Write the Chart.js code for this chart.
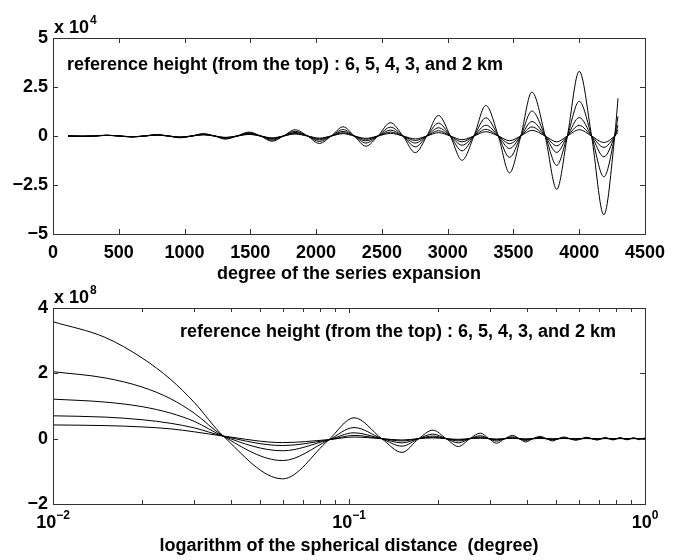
<!DOCTYPE html>
<html>
<head>
<meta charset="utf-8">
<script src="https://cdn.jsdelivr.net/npm/chart.js@4.4.0/dist/chart.umd.min.js"></script>
<style>
html, body { margin: 0; padding: 0; background: #fff; }
#wrap { position: relative; width: 681px; height: 560px; }
canvas { position: absolute; left: 0; }
</style>
</head>
<body>
<div id="wrap">
  <canvas id="spectrum" width="681" height="290" style="top:0"></canvas>
  <canvas id="spatial" width="681" height="280" style="top:280px"></canvas>
</div>
<script>
// top panel: degree of the series expansion, values in units of 1e4
var degree = [114, 225, 315, 407, 505, 600, 695, 788, 877, 965, 1055, 1143, 1228, 1310, 1400, 1490,
  1578, 1665, 1752, 1840, 1935, 2025, 2115, 2205, 2290, 2378, 2470, 2565, 2660, 2754, 2842, 2930,
  3020, 3109, 3200, 3290, 3385, 3470, 3556, 3640, 3741, 3829, 3910, 4000, 4094, 4187, 4270, 4295];
var deg6km = [0, -0.015, 0, 0.04, 0, -0.05, 0, 0.07, 0, -0.09, 0, 0.12, 0, -0.16, 0, 0.20, 0, -0.27, 0, 0.32, 0, -0.38, 0, 0.47,
  0, -0.52, 0, 0.68, 0, -0.85, 0, 1.05, 0, -1.24, 0, 1.56, 0, -1.88, 0, 2.24, 0, -2.72, 0, 3.30, 0, -4.02, 0, 1.92];
var deg5km = [0, -0.014, 0, 0.038, 0, -0.045, 0, 0.062, 0, -0.078, 0, 0.10, 0, -0.13, 0, 0.16, 0, -0.21, 0, 0.24, 0, -0.28, 0, 0.33,
  0, -0.36, 0, 0.45, 0, -0.55, 0, 0.66, 0, -0.76, 0, 0.93, 0, -1.09, 0, 1.27, 0, -1.50, 0, 1.77, 0, -2.08, 0, 1.0];
var deg4km = [0, -0.013, 0, 0.035, 0, -0.041, 0, 0.055, 0, -0.067, 0, 0.083, 0, -0.106, 0, 0.126, 0, -0.16, 0, 0.18, 0, -0.20, 0, 0.236,
  0, -0.25, 0, 0.30, 0, -0.36, 0, 0.42, 0, -0.47, 0, 0.55, 0, -0.64, 0, 0.74, 0, -0.84, 0, 0.94, 0, -1.06, 0, 0.55];
var deg3km = [0, -0.012, 0, 0.033, 0, -0.038, 0, 0.048, 0, -0.058, 0, 0.069, 0, -0.086, 0, 0.10, 0, -0.12, 0, 0.135, 0, -0.148, 0, 0.167,
  0, -0.17, 0, 0.20, 0, -0.23, 0, 0.27, 0, -0.30, 0, 0.34, 0, -0.39, 0, 0.46, 0, -0.50, 0, 0.54, 0, -0.58, 0, 0.32];
var deg2km = [0, -0.011, 0, 0.031, 0, -0.034, 0, 0.043, 0, -0.05, 0, 0.058, 0, -0.07, 0, 0.079, 0, -0.095, 0, 0.10, 0, -0.108, 0, 0.12,
  0, -0.12, 0, 0.134, 0, -0.15, 0, 0.17, 0, -0.19, 0, 0.22, 0, -0.24, 0, 0.29, 0, -0.30, 0, 0.32, 0, -0.33, 0, 0.18];
var degXTicks = [0, 500, 1000, 1500, 2000, 2500, 3000, 3500, 4000, 4500];
var degYTicks = [-5, -2.5, 0, 2.5, 5];

// bottom panel: spherical distance (degree), values in units of 1e8
var psi = [0.01, 0.015, 0.02, 0.025, 0.03, 0.0376, 0.0597, 0.0851, 0.104, 0.129, 0.151, 0.172, 0.192, 0.213, 0.234, 0.256,
  0.278, 0.297, 0.315, 0.336, 0.357, 0.376, 0.395, 0.418, 0.442, 0.465, 0.487, 0.51, 0.532, 0.558, 0.583, 0.61,
  0.635, 0.662, 0.69, 0.712, 0.735, 0.757, 0.78, 0.802, 0.825, 0.847, 0.87, 0.892, 0.915, 0.937, 0.96, 0.98, 1.0];
var psi6km = [3.58, 3.10, 2.47, 1.81, 1.11, 0.08, -1.23, -0.05, 0.64, 0, -0.42, 0, 0.26, 0, -0.24, 0, 0.17, 0, -0.14, 0,
  0.10, 0, -0.10, 0, 0.07, 0, -0.07, 0, 0.05, 0, -0.05, 0, 0.045, 0, -0.045, 0, 0.04, 0, -0.04, 0, 0.035, 0, -0.035, 0, 0.03, 0, -0.03, 0, 0.02];
var psi5km = [2.05, 1.86, 1.58, 1.22, 0.78, 0.08, -0.67, -0.05, 0.34, 0, -0.23, 0, 0.14, 0, -0.13, 0, 0.09, 0, -0.075, 0,
  0.055, 0, -0.055, 0, 0.04, 0, -0.04, 0, 0.03, 0, -0.03, 0, 0.025, 0, -0.025, 0, 0.02, 0, -0.02, 0, 0.02, 0, -0.02, 0, 0.015, 0, -0.015, 0, 0.01];
var psi4km = [1.21, 1.12, 0.98, 0.78, 0.53, 0.08, -0.37, -0.04, 0.18, 0, -0.13, 0, 0.08, 0, -0.07, 0, 0.05, 0, -0.04, 0,
  0.03, 0, -0.03, 0, 0.02, 0, -0.02, 0, 0.015, 0, -0.015, 0, 0.012, 0, -0.012, 0, 0.01, 0, -0.01, 0, 0.01, 0, -0.01, 0, 0.008, 0, -0.008, 0, 0.005];
var psi3km = [0.70, 0.66, 0.58, 0.47, 0.33, 0.08, -0.21, -0.04, 0.10, 0, -0.07, 0, 0.045, 0, -0.04, 0, 0.028, 0, -0.022, 0,
  0.016, 0, -0.016, 0, 0.011, 0, -0.011, 0, 0.008, 0, -0.008, 0, 0.007, 0, -0.007, 0, 0.006, 0, -0.006, 0, 0.005, 0, -0.005, 0, 0.004, 0, -0.004, 0, 0.003];
var psi2km = [0.42, 0.40, 0.36, 0.30, 0.21, 0.08, -0.12, -0.03, 0.05, 0, -0.04, 0, 0.025, 0, -0.02, 0, 0.015, 0, -0.012, 0,
  0.009, 0, -0.009, 0, 0.006, 0, -0.006, 0, 0.005, 0, -0.005, 0, 0.004, 0, -0.004, 0, 0.003, 0, -0.003, 0, 0.003, 0, -0.003, 0, 0.002, 0, -0.002, 0, 0.002];
var psiMajor = [0.01, 0.1, 1];
var psiMinor = [0.02, 0.03, 0.04, 0.05, 0.06, 0.07, 0.08, 0.09, 0.2, 0.3, 0.4, 0.5, 0.6, 0.7, 0.8, 0.9];
var psiDecades = ['-2', '-1', '0'];
var psiYTicks = [-2, 0, 2, 4];

var note = 'reference height (from the top) : 6, 5, 4, 3, and 2 km';
var FAMILY = "'Liberation Sans', Arial, Helvetica, sans-serif";
var tickFont = { family: FAMILY, size: 18, weight: 'bold' };

function pts(xs, ys) {
  return xs.map(function (x, i) { return { x: x, y: ys[i] }; });
}
function line(xs, ys, label) {
  return {
    label: label, data: pts(xs, ys), borderColor: '#000', borderWidth: 1,
    pointRadius: 0, fill: false, cubicInterpolationMode: 'monotone'
  };
}
function minus(v) {
  return v < 0 ? '\u2212' + Math.abs(v) : String(v);
}

// box, inward ticks, exponent and the note, matlab style
var matlabFrame = {
  id: 'matlabFrame',
  afterDatasetsDraw: function (chart, args, o) {
    var ctx = chart.ctx, a = chart.chartArea;
    var xs = chart.scales.x, ys = chart.scales.y;
    ctx.save();
    ctx.strokeStyle = '#333';
    ctx.lineWidth = 1;
    ctx.strokeRect(a.left + 0.5, a.top + 0.5, a.right - a.left, a.bottom - a.top);
    ctx.beginPath();
    function xt(v, len) {
      var p = Math.round(xs.getPixelForValue(v)) + 0.5;
      ctx.moveTo(p, a.bottom); ctx.lineTo(p, a.bottom - len);
      ctx.moveTo(p, a.top); ctx.lineTo(p, a.top + len);
    }
    o.xMajor.forEach(function (v) { xt(v, 5); });
    (o.xMinor || []).forEach(function (v) { xt(v, 4); });
    o.yTicks.forEach(function (v) {
      var p = Math.round(ys.getPixelForValue(v)) + 0.5;
      ctx.moveTo(a.left, p); ctx.lineTo(a.left + 5, p);
      ctx.moveTo(a.right, p); ctx.lineTo(a.right - 5, p);
    });
    ctx.stroke();

    ctx.fillStyle = '#000';
    ctx.textBaseline = 'alphabetic';
    ctx.textAlign = 'left';
    ctx.font = 'bold 18px ' + FAMILY;
    ctx.fillText(note, o.noteX, o.noteY);
    ctx.fillText('x 10', 54, o.expY);
    var w = ctx.measureText('x 10').width;
    ctx.font = 'bold 12px ' + FAMILY;
    ctx.fillText(o.exp, 54 + w + 1, o.expY - 9);

    if (o.decades) {
      o.xMajor.forEach(function (v, i) {
        var p = xs.getPixelForValue(v);
        ctx.font = 'bold 18px ' + FAMILY;
        var w1 = ctx.measureText('10').width;
        ctx.font = 'bold 12px ' + FAMILY;
        var sup = minus(+o.decades[i]);
        var w2 = ctx.measureText(sup).width;
        var x0 = p - (w1 + w2) / 2;
        ctx.font = 'bold 18px ' + FAMILY;
        ctx.fillText('10', x0, o.decY);
        ctx.font = 'bold 12px ' + FAMILY;
        ctx.fillText(sup, x0 + w1, o.decY - 9);
      });
    }
    ctx.restore();
  }
};

function baseOptions() {
  return {
    responsive: false, animation: false, devicePixelRatio: 1,
    plugins: { legend: { display: false }, tooltip: { enabled: false } },
    elements: { line: { borderJoinStyle: 'round' } }
  };
}
var noGrid = { display: false, drawTicks: false, tickLength: 0 };

// top chart
var o1 = baseOptions();
o1.layout = { padding: { top: 38, right: 36, left: 0, bottom: 0 } };
o1.scales = {
  x: {
    type: 'linear', min: 0, max: 4500,
    grid: noGrid, border: { display: false },
    ticks: { stepSize: 500, color: '#000', font: tickFont, padding: 8, maxRotation: 0, autoSkip: false,
      callback: function (v) { return String(v); } },
    title: { display: true, text: 'degree of the series expansion', color: '#000', font: tickFont, padding: { top: 0, bottom: 5 } },
    afterFit: function (s) { s.height = 56; }
  },
  y: {
    type: 'linear', min: -5, max: 5,
    grid: noGrid, border: { display: false },
    ticks: { stepSize: 2.5, color: '#000', font: tickFont, padding: 5, callback: minus },
    afterFit: function (s) { s.width = 53; }
  }
};
o1.plugins.matlabFrame = { xMajor: degXTicks, yTicks: degYTicks, noteX: 67, noteY: 70, exp: '4', expY: 33 };

new Chart(document.getElementById('spectrum').getContext('2d'), {
  type: 'line',
  data: {
    datasets: [
      line(degree, deg6km, '6 km'),
      line(degree, deg5km, '5 km'),
      line(degree, deg4km, '4 km'),
      line(degree, deg3km, '3 km'),
      line(degree, deg2km, '2 km')
    ]
  },
  options: o1,
  plugins: [matlabFrame]
});

// bottom chart
var o2 = baseOptions();
o2.layout = { padding: { top: 28, right: 36, left: 0, bottom: 0 } };
o2.scales = {
  x: {
    type: 'logarithmic', min: 0.01, max: 1,
    grid: noGrid, border: { display: false },
    ticks: { display: false },
    title: { display: true, text: 'logarithm of the spherical distance  (degree)', color: '#000', font: tickFont, padding: { top: 0, bottom: 3 } },
    afterFit: function (s) { s.height = 56; }
  },
  y: {
    type: 'linear', min: -2, max: 4,
    grid: noGrid, border: { display: false },
    ticks: { stepSize: 2, color: '#000', font: tickFont, padding: 5, callback: minus },
    afterFit: function (s) { s.width = 53; }
  }
};
o2.plugins.matlabFrame = { xMajor: psiMajor, xMinor: psiMinor, yTicks: psiYTicks, decades: psiDecades, decY: 248,
  noteX: 180, noteY: 57, exp: '8', expY: 23 };

new Chart(document.getElementById('spatial').getContext('2d'), {
  type: 'line',
  data: {
    datasets: [
      line(psi, psi6km, '6 km'),
      line(psi, psi5km, '5 km'),
      line(psi, psi4km, '4 km'),
      line(psi, psi3km, '3 km'),
      line(psi, psi2km, '2 km')
    ]
  },
  options: o2,
  plugins: [matlabFrame]
});
</script>
</body>
</html>
